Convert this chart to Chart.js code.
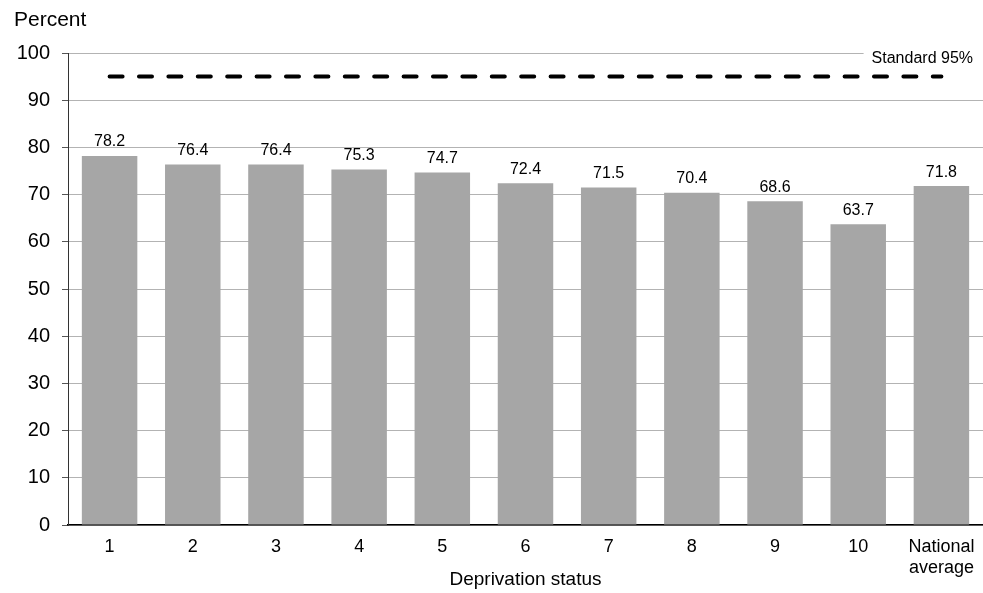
<!DOCTYPE html>
<html>
<head>
<meta charset="utf-8">
<script src="https://cdn.jsdelivr.net/npm/chart.js@4"></script>
<style>
html,body{margin:0;padding:0;background:#fff;}
#wrap{width:983px;height:593px;position:relative;}
</style>
</head>
<body>
<div id="wrap"><canvas id="c" width="983" height="593"></canvas></div>
<script>
const categories = ['1','2','3','4','5','6','7','8','9','10',['National','average']];
const values = [78.2, 76.4, 76.4, 75.3, 74.7, 72.4, 71.5, 70.4, 68.6, 63.7, 71.8];
const standard = [95, 95, 95, 95, 95, 95, 95, 95, 95, 95, 95];
const yTicks = [0, 10, 20, 30, 40, 50, 60, 70, 80, 90, 100];
const yTitle = 'Percent';
const xTitle = 'Deprivation status';
const standardLabel = 'Standard 95%';

const FONT = '"Liberation Sans", Arial, sans-serif';

const overlay = {
  id: 'overlay',
  afterDatasetsDraw(chart) {
    const ctx = chart.ctx;
    const meta = chart.getDatasetMeta(0);
    ctx.save();
    ctx.fillStyle = '#000';
    ctx.font = '16px ' + FONT;
    ctx.textAlign = 'center';
    ctx.textBaseline = 'bottom';
    meta.data.forEach((bar, i) => {
      ctx.fillText(values[i].toFixed(1), bar.x, bar.y - 6);
    });
    // standard label
    const ys = chart.scales.y;
    const area = chart.chartArea;
    ctx.font = '16px ' + FONT;
    ctx.textAlign = 'right';
    ctx.textBaseline = 'middle';
    const w = ctx.measureText(standardLabel).width;
    const ty = ys.getPixelForValue(100) + 6;
    ctx.fillStyle = '#fff';
    ctx.fillRect(area.right - 10 - w - 8, ty - 11, w + 30, 22);
    ctx.fillStyle = '#000';
    ctx.fillText(standardLabel, area.right - 10, ty);
    // y title
    ctx.font = '21px ' + FONT;
    ctx.textAlign = 'left';
    ctx.textBaseline = 'middle';
    ctx.fillText(yTitle, 14, 20);
    ctx.restore();
  }
};

new Chart(document.getElementById('c'), {
  data: {
    labels: categories,
    datasets: [
      {
        type: 'bar',
        data: values,
        backgroundColor: '#a6a6a6',
        borderWidth: 0,
        categoryPercentage: 0.667,
        barPercentage: 1.0,
        order: 2
      },
      {
        type: 'line',
        data: standard,
        borderColor: '#000',
        borderWidth: 4,
        borderDash: [13, 16.4],
        borderCapStyle: 'round',
        pointRadius: 0,
        fill: false,
        order: 1
      }
    ]
  },
  options: {
    responsive: false,
    animation: false,
    layout: { padding: { left: 0, right: 0, top: 53, bottom: 0 } },
    plugins: { legend: { display: false }, tooltip: { enabled: false } },
    scales: {
      x: {
        offset: true,
        grid: { display: false, drawTicks: false },
        border: { color: '#000', width: 1.5 },
        ticks: { color: '#000', font: { size: 18, family: FONT, lineHeight: 1.15 }, padding: 12, maxRotation: 0, autoSkip: false },
        title: { display: true, text: xTitle, color: '#000', font: { size: 19, family: FONT }, padding: { top: 0, bottom: 2 } },
        afterFit(s) { s.height = 68; s.paddingLeft = 0; s.paddingRight = 0; }
      },
      y: {
        min: 0, max: 100,
        afterBuildTicks(s) { s.ticks = yTicks.map(v => ({ value: v })); },
        grid: { color: '#b3b3b3', lineWidth: 1, tickLength: 6, tickColor: '#555' },
        border: { color: '#333', width: 1 },
        ticks: { color: '#000', font: { size: 20, family: FONT }, padding: 12 },
        afterFit(s) { s.width = 68; s.paddingTop = 0; s.paddingBottom = 0; }
      }
    }
  },
  plugins: [overlay]
});
</script>
</body>
</html>
